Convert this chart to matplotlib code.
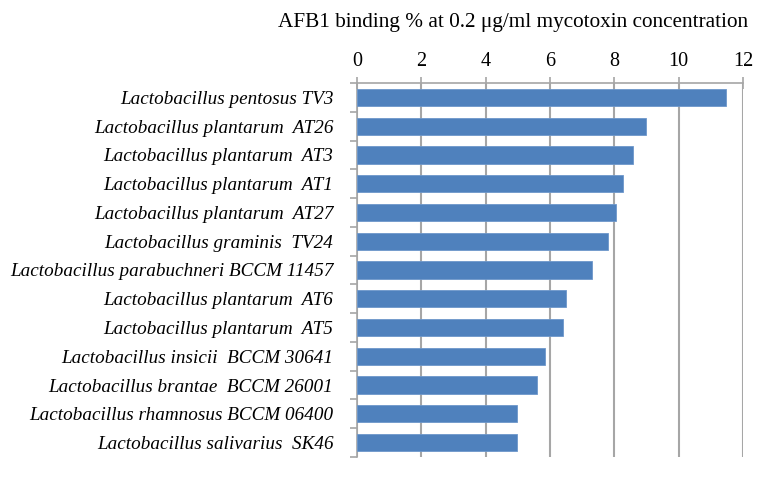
import numpy as np
import matplotlib.pyplot as plt

plt.rcParams['font.family'] = ['Liberation Serif', 'DejaVu Serif']

# ---- data (top to bottom) ----
strains = [
    'Lactobacillus pentosus TV3',
    'Lactobacillus plantarum  AT26',
    'Lactobacillus plantarum  AT3',
    'Lactobacillus plantarum  AT1',
    'Lactobacillus plantarum  AT27',
    'Lactobacillus graminis  TV24',
    'Lactobacillus parabuchneri BCCM 11457',
    'Lactobacillus plantarum  AT6',
    'Lactobacillus plantarum  AT5',
    'Lactobacillus insicii  BCCM 30641',
    'Lactobacillus brantae  BCCM 26001',
    'Lactobacillus rhamnosus BCCM 06400',
    'Lactobacillus salivarius  SK46',
]
binding = [11.47, 8.98, 8.57, 8.27, 8.04, 7.81, 7.32, 6.51, 6.40, 5.83, 5.59, 4.98, 4.98]
xticks = [0, 2, 4, 6, 8, 10, 12]

grid_col = '#A6A6A6'

fig = plt.figure(figsize=(7.61, 4.78), dpi=100)
ax = fig.add_axes([357 / 761, 1 - 457 / 478, 386 / 761, 374 / 478])

y = np.arange(len(strains))
ax.barh(y, binding, height=0.6, color='#4F81BD', edgecolor='#6D97CB', linewidth=0.6, zorder=3)

ax.set_xlim(0, 12)
ax.set_ylim(len(strains) - 0.5, -0.5)
ax.set_xticks(xticks)
ax.xaxis.tick_top()
ax.tick_params(axis='x', which='major', direction='inout', length=8, color=grid_col,
               width=1.2, labelsize=14.5, pad=5)

# category ticks sit between bars
ax.set_yticks(y)
ax.set_yticklabels(strains, fontsize=13.8, style='italic')
ax.tick_params(axis='y', which='major', length=0, pad=17)
ax.set_yticks(np.arange(-0.5, len(strains), 1), minor=True)
ax.tick_params(axis='y', which='minor', direction='out', length=5, color=grid_col, width=1.2)

ax.grid(axis='x', color=grid_col, linewidth=1.5, zorder=0)
for s in ['right', 'bottom']:
    ax.spines[s].set_visible(False)
for s in ['top', 'left']:
    ax.spines[s].set_color(grid_col)
    ax.spines[s].set_linewidth(1.2)

fig.text(513 / 761, 1 - 22 / 478, 'AFB1 binding % at 0.2 μg/ml mycotoxin concentration',
         ha='center', va='center', fontsize=15.3)

fig.savefig('out.png', dpi=100)
